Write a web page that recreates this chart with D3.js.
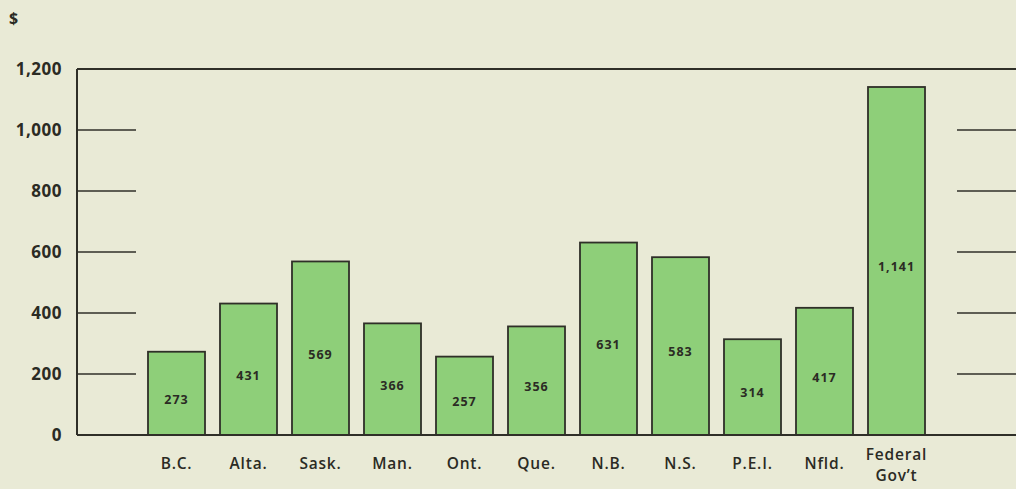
<!DOCTYPE html>
<html lang="en">
<head>
<meta charset="UTF-8">
<title>Spending per capita</title>
<style>
  body { margin: 0; background: #e9ead6; }
  svg { display: block; }
  text { font-family: "Open Sans", "DejaVu Sans", sans-serif; fill: #2b2b24; }
</style>
</head>
<body>
<script src="https://d3js.org/d3.v7.min.js"></script>
<div id="chart"></div>
<script>
// data
var categories = ["B.C.", "Alta.", "Sask.", "Man.", "Ont.", "Que.", "N.B.", "N.S.", "P.E.I.", "Nfld.", "Federal\nGov\u2019t"];
var values = [273, 431, 569, 366, 257, 356, 631, 583, 314, 417, 1141];
var valueLabels = ["273", "431", "569", "366", "257", "356", "631", "583", "314", "417", "1,141"];
var yTicks = [0, 200, 400, 600, 800, 1000, 1200];

var W = 1016, H = 489;
var plotLeft = 77, plotRight = 1016, plotTop = 69, plotBottom = 435;

var svg = d3.select("#chart").append("svg")
  .attr("width", W)
  .attr("height", H);

svg.append("rect").attr("width", W).attr("height", H).attr("fill", "#e9ead6");

var y = d3.scaleLinear().domain([0, 1200]).range([plotBottom, plotTop]);

var x = d3.scaleBand()
  .domain(categories)
  .range([140.5, 932.5])
  .paddingInner(15 / 72)
  .paddingOuter(7.5 / 72);

// frame: left side, top and baseline
svg.append("line").attr("x1", plotLeft).attr("x2", plotLeft).attr("y1", y(1200)).attr("y2", y(0))
  .attr("stroke", "#2f2f28").attr("stroke-width", 2);
svg.append("line").attr("x1", plotLeft).attr("x2", plotRight).attr("y1", y(1200)).attr("y2", y(1200))
  .attr("stroke", "#2f2f28").attr("stroke-width", 2);

// short grid ticks on both sides
var inner = yTicks.filter(function(d) { return d > 0 && d < 1200; });
svg.selectAll(".ltick").data(inner).enter().append("line")
  .attr("x1", plotLeft).attr("x2", 136)
  .attr("y1", function(d) { return y(d); }).attr("y2", function(d) { return y(d); })
  .attr("stroke", "#2f2f28").attr("stroke-width", 1.6);
svg.selectAll(".rtick").data(inner).enter().append("line")
  .attr("x1", 957).attr("x2", plotRight)
  .attr("y1", function(d) { return y(d); }).attr("y2", function(d) { return y(d); })
  .attr("stroke", "#2f2f28").attr("stroke-width", 1.6);

// y tick labels
svg.selectAll(".ylab").data(yTicks).enter().append("text")
  .attr("x", 62)
  .attr("y", function(d) { return y(d); })
  .attr("dy", "0.36em")
  .attr("text-anchor", "end")
  .style("font-size", "17px")
  .style("font-weight", 700)
  .style("letter-spacing", "0.5px")
  .text(function(d) { return d3.format(",")(d); });

svg.append("text").attr("x", 9).attr("y", 24)
  .style("font-size", "16px").style("font-weight", 700).text("$");

// bars
svg.selectAll(".bar").data(values).enter().append("rect")
  .attr("x", function(d, i) { return x(categories[i]); })
  .attr("y", function(d) { return y(d); })
  .attr("width", x.bandwidth())
  .attr("height", function(d) { return y(0) - y(d); })
  .attr("fill", "#8ecf79")
  .attr("stroke", "#2f2f28")
  .attr("stroke-width", 1.8);

// baseline on top of bars
svg.append("line").attr("x1", plotLeft).attr("x2", plotRight).attr("y1", y(0)).attr("y2", y(0))
  .attr("stroke", "#2f2f28").attr("stroke-width", 2);

// value labels in middle of bars
svg.selectAll(".val").data(values).enter().append("text")
  .attr("x", function(d, i) { return x(categories[i]) + x.bandwidth() / 2; })
  .attr("y", function(d) { return (y(d) + y(0)) / 2 + 6; })
  .attr("dy", "0.35em")
  .attr("text-anchor", "middle")
  .style("font-size", "12.5px")
  .style("font-weight", 700)
  .style("letter-spacing", "1px")
  .text(function(d, i) { return valueLabels[i]; });

// category labels
var cat = svg.selectAll(".cat").data(categories).enter().append("text")
  .attr("text-anchor", "middle")
  .style("font-size", "15.5px")
  .style("font-weight", 600)
  .style("letter-spacing", "0.8px");
cat.each(function(d) {
  var lines = d.split("\n");
  var t = d3.select(this);
  var y0 = lines.length > 1 ? 460 : 469;
  lines.forEach(function(l, k) {
    t.append("tspan").attr("x", x(d) + x.bandwidth() / 2).attr("y", y0 + k * 21).text(l);
  });
});
</script>
</body>
</html>
